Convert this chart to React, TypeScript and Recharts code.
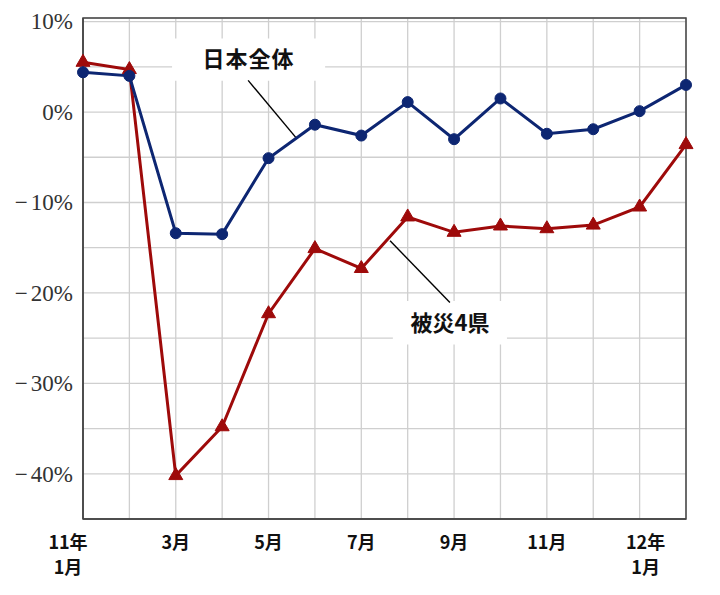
import React from 'react';
import {
  LineChart,
  Line,
  XAxis,
  YAxis,
  CartesianGrid,
  ReferenceArea,
  ReferenceLine,
} from 'recharts';

// 2011年1月 〜 2012年2月
const monthIndex = [0, 1, 2, 3, 4, 5, 6, 7, 8, 9, 10, 11, 12, 13];
const xTickLabels = ['11年|1月', '', '3月', '', '5月', '', '7月', '', '9月', '', '11月', '', '12年|1月', ''];
const japanTotal = [4.4, 4.0, -13.4, -13.5, -5.1, -1.4, -2.6, 1.1, -3.0, 1.5, -2.4, -1.9, 0.1, 3.0];
const affected4 = [5.5, 4.7, -40.2, -34.8, -22.3, -15.1, -17.3, -11.6, -13.3, -12.6, -12.9, -12.5, -10.5, -3.6];
const yTicks = [-40, -35, -30, -25, -20, -15, -10, -5, 0, 5, 10];
const yDomain = [-45, 10.4];
const seriesNames = ['日本全体', '被災4県'];

const data = monthIndex.map((i) => ({ i, japan: japanTotal[i], affected: affected4[i] }));

const BLUE = '#0d2672';
const RED = '#9e0a0a';
const CJK = '"Noto Sans CJK JP", "Noto Sans", sans-serif';
const SERIF = '"Liberation Serif", "DejaVu Serif", serif';

const fmtY = (v: number) => {
  if (v % 10 !== 0) return '';
  return (v < 0 ? '\u2212' : '') + Math.abs(v) + '%';
};

const XTick = (props: any) => {
  const { x, y, payload } = props;
  const label = xTickLabels[payload.value] || '';
  if (!label) return null;
  const lines = label.split('|');
  let shift = 0;
  if (payload.value === 0) shift = -15;
  if (payload.value === 12) shift = 6;
  return (
    <g>
      {lines.map((t: string, k: number) => (
        <text
          key={k}
          x={x + shift}
          y={y + 22 + k * 25}
          textAnchor="middle"
          dominantBaseline="central"
          style={{ fontFamily: CJK, fontWeight: 700, fontSize: 18 }}
          fill="#111"
        >
          {t}
        </text>
      ))}
    </g>
  );
};

const YTick = (props: any) => {
  const { x, y, payload } = props;
  const t = fmtY(payload.value);
  if (!t) return null;
  const neg = t.startsWith('\u2212');
  return (
    <text
      x={x}
      y={y}
      textAnchor="end"
      dominantBaseline="central"
      style={{ fontFamily: SERIF, fontSize: 23, fontWeight: 400 }}
      fill="#333"
    >
      {neg ? (
        <>
          <tspan>{'\u2212'}</tspan>
          <tspan dx={3}>{t.slice(1)}</tspan>
        </>
      ) : (
        t
      )}
    </text>
  );
};

const Triangle = (props: any) => {
  const { cx, cy } = props;
  if (cx == null || cy == null) return null;
  const h = 12;
  const w = 14;
  const d = `M ${cx} ${cy - (2 * h) / 3} L ${cx + w / 2} ${cy + h / 3} L ${cx - w / 2} ${cy + h / 3} Z`;
  return <path d={d} fill={RED} stroke={RED} strokeWidth={1} />;
};

const Dot = (props: any) => {
  const { cx, cy } = props;
  if (cx == null || cy == null) return null;
  return <circle cx={cx} cy={cy} r={5.5} fill={BLUE} stroke={BLUE} />;
};

const labelStyle = {
  fontFamily: CJK,
  fontWeight: 700,
  fontSize: 22,
  fill: '#111',
};

export default function App() {
  return (
    <div style={{ position: 'absolute', left: 0, top: 0, background: '#fff' }}>
      <LineChart
        width={720}
        height={595}
        data={data}
        margin={{ top: 18, right: 34, left: 0, bottom: 0 }}
      >
        <CartesianGrid stroke="#cfcfcf" strokeWidth={1.3} />
        <XAxis
          dataKey="i"
          type="number"
          domain={[0, 13]}
          ticks={monthIndex}
          interval={0}
          height={76}
          tickSize={0}
          tickMargin={0}
          tick={<XTick />}
          axisLine={{ stroke: '#444', strokeWidth: 1.5 }}
          tickLine={false}
        />
        <YAxis
          type="number"
          domain={yDomain}
          ticks={yTicks}
          interval={0}
          width={83}
          tickSize={0}
          tickMargin={10}
          tick={<YTick />}
          axisLine={{ stroke: '#444', strokeWidth: 1.5 }}
          tickLine={false}
          allowDataOverflow
        />
        <ReferenceArea
          x1={0}
          x2={13}
          y1={yDomain[0]}
          y2={yDomain[1]}
          fill="none"
          fillOpacity={0}
          stroke="#444"
          strokeWidth={1.5}
        />
        <ReferenceArea
          x1={1.92}
          x2={5.22}
          y1={3.47}
          y2={8.13}
          fill="#fff"
          fillOpacity={1}
          stroke="none"
          label={{ value: seriesNames[0], position: 'center', ...labelStyle, letterSpacing: 1 }}
        />
        <ReferenceArea
          x1={6.68}
          x2={9.14}
          y1={-25.7}
          y2={-20.9}
          fill="#fff"
          fillOpacity={1}
          stroke="none"
          label={{ value: seriesNames[1], position: 'center', ...labelStyle }}
        />
        <ReferenceLine
          segment={[
            { x: 3.56, y: 3.5 },
            { x: 4.6, y: -2.88 },
          ]}
          stroke="#000"
          strokeWidth={1.4}
        />
        <ReferenceLine
          segment={[
            { x: 6.62, y: -14.23 },
            { x: 7.91, y: -21.07 },
          ]}
          stroke="#000"
          strokeWidth={1.4}
        />
        <Line
          type="linear"
          dataKey="affected"
          name={seriesNames[1]}
          stroke={RED}
          strokeWidth={3}
          dot={<Triangle />}
          activeDot={false}
          isAnimationActive={false}
        />
        <Line
          type="linear"
          dataKey="japan"
          name={seriesNames[0]}
          stroke={BLUE}
          strokeWidth={3}
          dot={<Dot />}
          activeDot={false}
          isAnimationActive={false}
        />
      </LineChart>
    </div>
  );
}
